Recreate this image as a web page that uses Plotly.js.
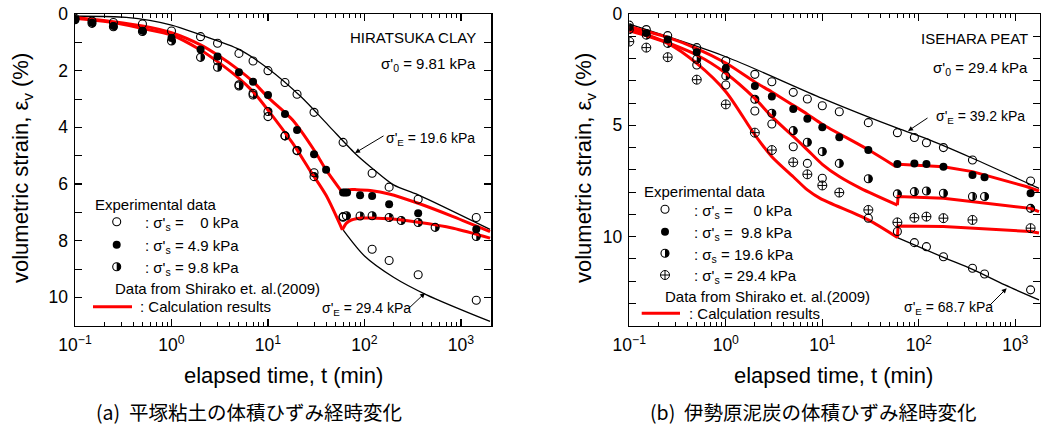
<!DOCTYPE html>
<html>
<head>
<meta charset="utf-8">
<script src="https://cdn.plot.ly/plotly-3.0.1.min.js"></script>
<style>
  html, body { margin: 0; padding: 0; background: #fff; }
  #chart { width: 1041px; height: 432px; }
</style>
</head>
<body>
<div id="chart"></div>
<script>
// ---------- (a) Hiratsuka clay ----------
// measured points: elapsed time t (min) and volumetric strain (%)
const hOpenE196T = [0.1, 0.15, 0.25, 0.5, 1, 2, 3, 5, 7, 10, 15, 20, 30, 60, 120, 180, 360, 1440];
const hOpenE196V = [0.15, 0.25, 0.3, 0.35, 0.6, 0.8, 1.03, 1.39, 1.66, 2.0, 2.42, 2.83, 3.47, 4.53, 5.62, 6.11, 6.54, 7.18];
const hOpenE294T = [3, 5, 7, 10, 15, 20, 30, 60, 120, 180, 360, 1440];
const hOpenE294V = [1.65, 2.5, 2.8, 3.62, 4.3, 4.82, 5.6, 7.17, 8.3, 8.7, 9.2, 10.1];
const hFilledT = [0.1, 0.15, 0.25, 0.5, 1, 2, 3, 5, 7, 10, 15, 20, 30, 40, 60, 63, 66, 90, 120, 180, 360, 1440];
const hFilledV = [0.19, 0.31, 0.42, 0.59, 0.85, 1.25, 1.5, 2.06, 2.39, 2.86, 3.53, 4.09, 4.95, 5.5, 6.3, 6.3, 6.3, 6.4, 6.42, 6.71, 7.03, 7.6];
const hHalfT = [0.1, 0.15, 0.25, 0.5, 1, 2, 3, 5, 7, 10, 15, 20, 30, 60, 65, 90, 120, 180, 240, 360, 540, 1440];
const hHalfV = [0.2, 0.33, 0.45, 0.62, 0.95, 1.53, 1.88, 2.54, 2.86, 3.44, 4.3, 4.82, 5.74, 7.15, 7.12, 7.13, 7.12, 7.18, 7.29, 7.36, 7.53, 7.85];

// calculated curves
const hBlackE196T = [0.1, 0.34, 1, 2, 5, 10, 22, 42, 80, 120, 200, 360, 2000];
const hBlackE196V = [0.08, 0.12, 0.39, 0.74, 1.25, 1.92, 2.92, 3.92, 4.92, 5.44, 6.03, 6.38, 7.6];
const hBlackE294T = [60, 100, 200, 440, 2000];
const hBlackE294V = [7.62, 8.54, 9.29, 9.91, 10.85];
const hRed1PreT = [0.1, 0.25, 0.5, 1, 2, 3, 5, 7, 10, 18, 30, 40, 59];
const hRed1PreV = [0.12, 0.27, 0.42, 0.66, 1.09, 1.45, 1.98, 2.39, 2.94, 3.74, 4.8, 5.5, 6.3];
const hRed1PostT = [59, 70, 83, 115, 180, 360, 830, 2000];
const hRed1PostV = [6.3, 6.2, 6.2, 6.23, 6.35, 6.68, 7.15, 7.68];
const hRed2PreT = [0.1, 0.25, 0.5, 1, 2, 3, 5, 7, 10, 18, 27, 40, 59];
const hRed2PreV = [0.15, 0.3, 0.51, 0.74, 1.27, 1.68, 2.27, 2.74, 3.39, 4.56, 5.5, 6.4, 7.62];
const hRed2PostT = [59, 65, 73, 97, 180, 360, 830, 2000];
const hRed2PostV = [7.62, 7.38, 7.27, 7.2, 7.23, 7.35, 7.56, 7.91];

// ---------- (b) Isehara peat ----------
const iOpenE392T = [0.1, 0.15, 0.25, 0.5, 1, 2, 3, 5, 7, 10, 15, 30, 60, 90, 120, 180, 360, 1440];
const iOpenE392V = [0.5, 0.7, 0.97, 1.51, 2.1, 2.71, 3.04, 3.52, 3.82, 4.12, 4.39, 4.88, 5.33, 5.55, 5.78, 6.0, 6.56, 7.5];
const iOpenE687T = [0.5, 1, 2, 3, 5, 7, 10, 30, 60, 90, 120, 180, 360, 480, 1440];
const iOpenE687V = [2.29, 3.19, 4.36, 4.94, 5.96, 6.71, 7.38, 9.17, 9.77, 10.27, 10.45, 10.9, 11.42, 11.68, 12.39];
const iFilledT = [0.1, 0.15, 0.25, 0.5, 1, 2, 3, 5, 7, 10, 15, 30, 60, 90, 120, 180, 360, 480, 1440];
const iFilledV = [0.6, 0.85, 1.14, 1.72, 2.44, 3.23, 3.71, 4.27, 4.71, 5.09, 5.54, 6.11, 6.74, 6.71, 6.74, 6.86, 7.23, 7.33, 8.05];
const iHalfT = [0.1, 0.15, 0.25, 0.5, 1, 2, 3, 5, 7, 10, 15, 30, 60, 90, 120, 180, 360, 480, 1440];
const iHalfV = [0.7, 0.95, 1.32, 2.03, 2.78, 3.83, 4.46, 5.24, 5.76, 6.18, 6.71, 7.4, 8.08, 7.98, 7.95, 8.05, 8.2, 8.2, 8.73];
const iCrossT = [0.1, 0.15, 0.25, 0.5, 1, 2, 3, 5, 7, 10, 15, 30, 60, 90, 120, 180, 360, 1440];
const iCrossV = [1.24, 1.51, 1.94, 2.95, 4.06, 5.33, 6.11, 6.66, 7.2, 7.7, 8.02, 8.8, 9.36, 9.15, 9.1, 9.17, 9.25, 9.62];

const iBlackE392T = [0.1, 1, 10, 60, 120, 360, 1760];
const iBlackE392V = [0.46, 1.92, 3.79, 5.13, 5.6, 6.48, 7.83];
const iBlackE687T = [60, 180, 360, 780, 1760];
const iBlackE687V = [10.04, 10.93, 11.47, 12.17, 12.84];
const iRedAPreT = [0.1, 0.25, 0.5, 1, 2, 3, 5, 7, 10, 30, 58];
const iRedAPreV = [0.57, 1.05, 1.55, 2.2, 3.05, 3.5, 4.1, 4.5, 4.95, 6.1, 6.86];
const iRedAPostT = [58, 62, 180, 360, 1300, 1760];
const iRedAPostV = [6.86, 6.75, 6.86, 7.08, 7.75, 7.95];
const iRedBPreT = [0.1, 0.5, 1, 2, 3, 5, 7, 10, 15, 25, 60];
const iRedBPreV = [0.64, 1.84, 2.66, 3.79, 4.61, 5.5, 6.1, 6.75, 7.3, 7.83, 8.58];
const iRedBPostT = [60, 61, 180, 1440, 1760];
const iRedBPostV = [8.58, 8.2, 8.28, 8.73, 8.88];
const iRedCPreT = [0.1, 0.25, 0.5, 1, 2, 3, 5, 7, 9.5, 30, 60];
const iRedCPreV = [0.75, 1.32, 2.22, 3.49, 5.43, 6.41, 7.31, 7.9, 8.28, 9.25, 10.04];
const iRedCPostT = [60, 61, 180, 1440, 1760];
const iRedCPostV = [10.04, 9.52, 9.55, 9.77, 9.84];

// ---------- page geometry ----------
const W = 1041, H = 432;
const FONT = 'Liberation Sans, Arial, sans-serif';
const RED = '#ff0000';
const PANEL_A = { left: 75, right: 491, maxLog: 3.311 };
const PANEL_B = { left: 629.3, right: 1040, maxLog: 3.256 };
const TOP = 14, BOTTOM = 325.7;
const MARK = 8;          // symbol diameter (px)
const HALF_SHIFT = 4.5;  // px: white mask sits left of the symbol centre

// pixel shift expressed in log-decades for a panel's x axis
function logShift(p) { return HALF_SHIFT * (p.maxLog + 1) / (p.right - p.left); }

// ---------- traces ----------
function curve(t, v, ax, color, width, shape) {
  return { x: t, y: v, xaxis: ax[0], yaxis: ax[1], mode: 'lines',
    line: { color: color, width: width, shape: shape || 'spline', smoothing: 0.8 },
    hoverinfo: 'skip', showlegend: false };
}
function points(t, v, ax, symbol, size, lineWidth) {
  return { x: t, y: v, xaxis: ax[0], yaxis: ax[1], mode: 'markers',
    marker: { symbol: symbol, size: size || MARK, color: 'black',
      line: { color: 'black', width: lineWidth === undefined ? 1.1 : lineWidth } },
    hoverinfo: 'skip', showlegend: false };
}
function whiteMask(t, v, ax) {
  return { x: t, y: v, xaxis: ax[0], yaxis: ax[1], mode: 'markers',
    marker: { symbol: 'square', size: MARK + 1, color: 'white', line: { width: 0 } },
    hoverinfo: 'skip', showlegend: false };
}

// Layering per panel: base axis holds the black discs of the half-filled symbols,
// the shifted overlay whitens their left halves, the top overlay carries
// every curve and the remaining symbols (including the half-symbol outlines).
const A = ['x', 'y'], A_SH = ['x3', 'y'], A_TOP = ['x4', 'y'];
const B = ['x2', 'y2'], B_SH = ['x5', 'y2'], B_TOP = ['x6', 'y2'];
const K = ['x7', 'y3'], K_SH = ['x8', 'y3'], K_TOP = ['x9', 'y3'];

// legend keys (pixel positions of the key symbols)
const keyAX = 116.7, keyARows = [221.7, 244.7, 266.7];
const keyBX = 665, keyBRows = [209.3, 231.7, 253.3, 275];

const traces = [
  // panel (a)
  points(hHalfT, hHalfV, A, 'circle', MARK, 0),
  whiteMask(hHalfT, hHalfV, A_SH),
  curve(hBlackE196T, hBlackE196V, A_TOP, 'black', 1.3),
  curve(hBlackE294T, hBlackE294V, A_TOP, 'black', 1.3),
  curve(hRed1PreT, hRed1PreV, A_TOP, RED, 3),
  curve(hRed1PostT, hRed1PostV, A_TOP, RED, 3),
  curve(hRed2PreT, hRed2PreV, A_TOP, RED, 3),
  curve(hRed2PostT, hRed2PostV, A_TOP, RED, 3),
  points(hOpenE196T, hOpenE196V, A_TOP, 'circle-open'),
  points(hOpenE294T, hOpenE294V, A_TOP, 'circle-open'),
  points(hFilledT, hFilledV, A_TOP, 'circle', MARK, 0),
  points(hHalfT, hHalfV, A_TOP, 'circle-open'),

  // panel (b)
  points(iHalfT, iHalfV, B, 'circle', MARK, 0),
  whiteMask(iHalfT, iHalfV, B_SH),
  curve(iBlackE392T, iBlackE392V, B_TOP, 'black', 1.3),
  curve(iBlackE687T, iBlackE687V, B_TOP, 'black', 1.3),
  curve(iRedAPreT, iRedAPreV, B_TOP, RED, 3),
  curve(iRedAPostT, iRedAPostV, B_TOP, RED, 3, 'linear'),
  curve(iRedBPreT, iRedBPreV, B_TOP, RED, 3),
  curve(iRedBPostT, iRedBPostV, B_TOP, RED, 3, 'linear'),
  curve(iRedCPreT, iRedCPreV, B_TOP, RED, 3),
  curve(iRedCPostT, iRedCPostV, B_TOP, RED, 3, 'linear'),
  points(iOpenE392T, iOpenE392V, B_TOP, 'circle-open'),
  points(iOpenE687T, iOpenE687V, B_TOP, 'circle-open'),
  points(iFilledT, iFilledV, B_TOP, 'circle', MARK, 0),
  points(iHalfT, iHalfV, B_TOP, 'circle-open'),
  points(iCrossT, iCrossV, B_TOP, 'circle-cross-open', 9, 1),

  // legend keys
  points([keyAX, keyBX], [keyARows[2], keyBRows[2]], K, 'circle', MARK, 0),
  whiteMask([keyAX, keyBX], [keyARows[2], keyBRows[2]], K_SH),
  points([keyAX, keyBX], [keyARows[2], keyBRows[2]], K_TOP, 'circle-open'),
  points([keyAX, keyBX], [keyARows[0], keyBRows[0]], K_TOP, 'circle-open'),
  points([keyAX, keyBX], [keyARows[1], keyBRows[1]], K_TOP, 'circle', MARK, 0),
  points([keyBX], [keyBRows[3]], K_TOP, 'circle-cross-open', 9, 1)
];

// ---------- axes ----------
const decadeVals = [0.1, 1, 10, 100, 1000];
const decadeText = ['10<sup>\u22121</sup>', '10<sup>0</sup>', '10<sup>1</sup>', '10<sup>2</sup>', '10<sup>3</sup>'];
const minorLog = [];
[0.1, 1, 10, 100, 1000].forEach(d => { for (let k = 2; k <= 9; k++) minorLog.push(d * k); });

function xAxis(p, anchor) {
  return { type: 'log', domain: [p.left / W, p.right / W], range: [-1, p.maxLog], anchor: anchor,
    tickmode: 'array', tickvals: decadeVals, ticktext: decadeText,
    ticks: 'inside', ticklen: 7, tickwidth: 1.2, tickcolor: 'black',
    minor: { tickmode: 'array', tickvals: minorLog, ticks: 'inside', ticklen: 4, tickwidth: 1, tickcolor: 'black' },
    showline: true, linecolor: 'black', linewidth: 1.5, mirror: 'allticks',
    showgrid: false, zeroline: false, ticklabelstandoff: 3,
    tickfont: { family: FONT, size: 17.5, color: 'black' } };
}
function overlayX(p, base, anchor, shift) {
  return { type: 'log', overlaying: base, anchor: anchor, visible: false,
    range: [-1 + shift, p.maxLog + shift], showgrid: false, zeroline: false };
}
function yAxis(maxV, dtick, anchor) {
  return { domain: [1 - BOTTOM / H, 1 - TOP / H], range: [maxV, 0], anchor: anchor, autorange: false,
    tickmode: 'linear', tick0: 0, dtick: dtick,
    ticks: 'inside', ticklen: 7, tickwidth: 1.2, tickcolor: 'black',
    minor: { dtick: 1, ticks: 'inside', ticklen: 4, tickwidth: 1, tickcolor: 'black' },
    showline: true, linecolor: 'black', linewidth: 1.5, mirror: 'allticks',
    showgrid: false, zeroline: false, ticklabelstandoff: 2,
    tickfont: { family: FONT, size: 17.5, color: 'black' } };
}
const hidden = { visible: false, showgrid: false, zeroline: false };

// ---------- texts ----------
function note(text, px, py, xanchor, size, extra) {
  return Object.assign({ text: text, xref: 'paper', yref: 'paper', x: px / W, y: 1 - py / H,
    xanchor: xanchor, yanchor: 'middle', showarrow: false,
    font: { family: FONT, size: size, color: 'black' } }, extra || {});
}
function arrow(headX, headY, tailX, tailY) {
  return { text: '', xref: 'paper', yref: 'paper', x: headX / W, y: 1 - headY / H,
    ax: tailX - headX, ay: tailY - headY, showarrow: true,
    arrowhead: 2, arrowsize: 1, arrowwidth: 1, arrowcolor: 'black' };
}
const NB = '\u00A0';
const sig = "\u03C3'";
const CJK = { font: { family: 'Noto Sans CJK JP, sans-serif', size: 19.5, color: 'black' } };

const annotations = [
  // panel (a)
  note('HIRATSUKA CLAY', 478, 37, 'right', 15),
  note(sig + '<sub>0</sub> = 9.81 kPa', 478, 64, 'right', 15),
  note(sig + '<sub>E</sub> = 19.6 kPa', 477, 139, 'right', 14),
  arrow(355, 153, 385, 135),
  note(sig + '<sub>E</sub> = 29.4 kPa', 320, 309, 'left', 14),
  arrow(425, 293, 407, 310),
  note('Experimental data', 93, 205, 'left', 15),
  note(':' + NB + sig + '<sub>s</sub> =' + NB + NB + NB + NB + '0 kPa', 143, 223.5, 'left', 15),
  note(':' + NB + sig + '<sub>s</sub> = 4.9 kPa', 143, 246.5, 'left', 15),
  note(':' + NB + sig + '<sub>s</sub> = 9.8 kPa', 143, 268.5, 'left', 15),
  note('Data from Shirako et. al.(2009)', 113, 288.3, 'left', 15),
  note(':' + NB + 'Calculation results', 138, 306.7, 'left', 15),
  note('elapsed time, t (min)', 283, 375, 'center', 22),
  note('volumetric strain, \u03B5<sub>v</sub>' + NB + '(%)', 22, 168, 'center', 22, { textangle: -90 }),
  note('(a)' + NB + NB + '平塚粘土の体積ひずみ経時変化', 249, 411, 'center', 19.5, CJK),

  // panel (b)
  note('ISEHARA PEAT', 1030, 38, 'right', 15),
  note(sig + '<sub>0</sub> = 29.4 kPa', 1030, 68, 'right', 15),
  note(sig + '<sub>E</sub> = 39.2 kPa', 1027, 117, 'right', 14),
  arrow(908, 131, 929, 117),
  note(sig + '<sub>E</sub> = 68.7 kPa', 902, 308, 'left', 14),
  arrow(1006.7, 288.3, 988, 307),
  note('Experimental data', 641.7, 191.7, 'left', 15),
  note(':' + NB + sig + '<sub>s</sub> =' + NB + NB + NB + NB + NB + '0 kPa', 691.7, 211, 'left', 15),
  note(':' + NB + sig + '<sub>s</sub> =' + NB + NB + '9.8 kPa', 691.7, 233.4, 'left', 15),
  note(':' + NB + '\u03C3<sub>s</sub> = 19.6 kPa', 691.7, 255, 'left', 15),
  note(':' + NB + sig + '<sub>s</sub> = 29.4 kPa', 691.7, 276.7, 'left', 15),
  note('Data from Shirako et. al.(2009)', 663, 296.7, 'left', 15),
  note(':' + NB + 'Calculation results', 686.7, 313.3, 'left', 15),
  note('elapsed time, t (min)', 833, 375, 'center', 22),
  note('volumetric strain, \u03B5<sub>v</sub>' + NB + '(%)', 585, 168, 'center', 22, { textangle: -90 }),
  note('(b)' + NB + NB + '伊勢原泥炭の体積ひずみ経時変化', 813, 411, 'center', 19.5, CJK)
];

// red line keys for the calculation results
const shapes = [
  { type: 'line', xref: 'paper', yref: 'paper', x0: 93 / W, x1: 132 / W, y0: 1 - 306.7 / H, y1: 1 - 306.7 / H,
    line: { color: RED, width: 3 } },
  { type: 'line', xref: 'paper', yref: 'paper', x0: 641.7 / W, x1: 680 / W, y0: 1 - 313.3 / H, y1: 1 - 313.3 / H,
    line: { color: RED, width: 3 } }
];

const layout = {
  width: W, height: H,
  margin: { l: 0, r: 0, t: 0, b: 0 },
  paper_bgcolor: 'white', plot_bgcolor: 'rgba(0,0,0,0)',
  showlegend: false,
  xaxis: xAxis(PANEL_A, 'y'),
  yaxis: yAxis(11, 2, 'x'),
  xaxis2: xAxis(PANEL_B, 'y2'),
  yaxis2: yAxis(14, 5, 'x2'),
  xaxis3: overlayX(PANEL_A, 'x', 'y', logShift(PANEL_A)),
  xaxis4: overlayX(PANEL_A, 'x', 'y', 0),
  xaxis5: overlayX(PANEL_B, 'x2', 'y2', logShift(PANEL_B)),
  xaxis6: overlayX(PANEL_B, 'x2', 'y2', 0),
  // full-page pixel frame for the legend keys
  xaxis7: Object.assign({ domain: [0, 1], range: [0, W], anchor: 'y3' }, hidden),
  xaxis8: Object.assign({ overlaying: 'x7', range: [HALF_SHIFT, W + HALF_SHIFT], anchor: 'y3' }, hidden),
  xaxis9: Object.assign({ overlaying: 'x7', range: [0, W], anchor: 'y3' }, hidden),
  yaxis3: Object.assign({ domain: [0, 1], range: [H, 0], anchor: 'x7' }, hidden),
  annotations: annotations,
  shapes: shapes,
  font: { family: FONT, color: 'black' }
};

Plotly.newPlot('chart', traces, layout, { staticPlot: true, displayModeBar: false });
</script>
</body>
</html>
